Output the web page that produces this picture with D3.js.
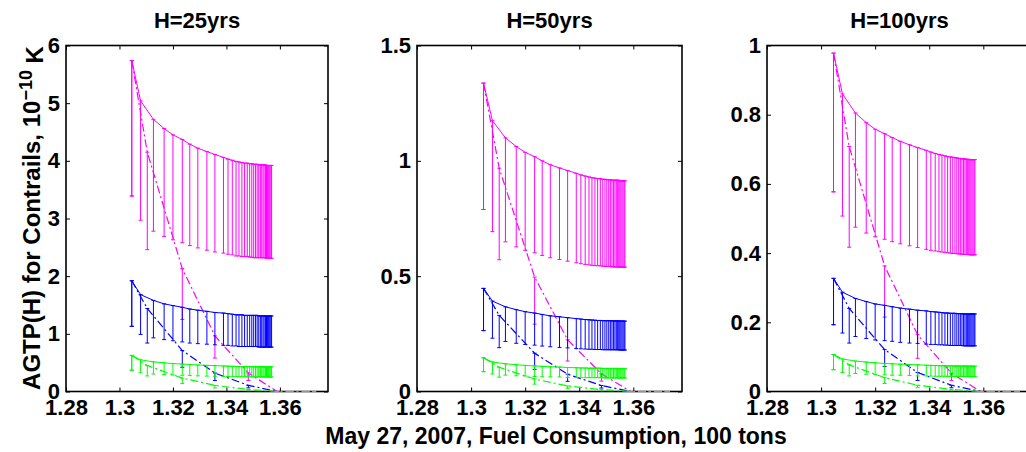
<!DOCTYPE html>
<meta charset="utf-8">
<style>
body { margin: 0; background: #fff; }
svg text { font-family: "Liberation Sans", Arial, sans-serif; font-weight: bold; fill: #000; }
.axis text { font-size: 22px; }
.axis line { stroke: #000; }
.axis path { display: none; }
</style>
<svg id="chart" width="1026" height="452"></svg>
<script src="https://d3js.org/d3.v7.min.js"></script>
<script>

// x positions (fuel consumption, 100 tons)
var xsSolid = [1.3046,1.3079,1.3127,1.3167,1.3200,1.3235,1.3263,1.3293,1.3327,1.3357,1.3389,1.3406,1.3422,1.3436,1.3447,1.3458,1.3468,1.3478,1.3487,1.3495,1.3502,1.3509,1.3515,1.3521,1.3527,1.3532,1.3537,1.3541,1.3546,1.3550,1.3554,1.3558,1.3562,1.3566,1.3569];
var xsDash = [1.3046,1.3104,1.3235,1.3357,1.3482,1.3590,1.3728];

var xTicks = [1.28, 1.30, 1.32, 1.34, 1.36];
var xTickLabels = ["1.28", "1.3", "1.32", "1.34", "1.36"];

// H = 25 yrs
var h25MagTop = [5.74,5.04,4.72,4.56,4.45,4.37,4.29,4.22,4.16,4.11,4.06,4.03,4.01,3.99,3.98,3.97,3.96,3.96,3.95,3.95,3.94,3.94,3.94,3.93,3.93,3.93,3.93,3.93,3.93,3.92,3.92,3.92,3.92,3.92,3.92];
var h25MagLow = [3.39,2.97,2.78,2.69,2.63,2.58,2.53,2.49,2.45,2.42,2.40,2.38,2.37,2.35,2.35,2.34,2.34,2.34,2.33,2.33,2.32,2.32,2.32,2.32,2.32,2.32,2.32,2.32,2.32,2.31,2.31,2.31,2.31,2.31,2.31];
var h25BluTop = [1.92,1.68,1.58,1.52,1.49,1.46,1.43,1.41,1.39,1.37,1.36,1.35,1.34,1.33,1.33,1.33,1.32,1.32,1.32,1.32,1.32,1.32,1.32,1.31,1.31,1.31,1.31,1.31,1.31,1.31,1.31,1.31,1.31,1.31,1.31];
var h25BluLow = [1.13,0.99,0.93,0.90,0.88,0.86,0.84,0.83,0.82,0.81,0.80,0.80,0.79,0.79,0.78,0.78,0.78,0.78,0.78,0.78,0.78,0.78,0.78,0.77,0.77,0.77,0.77,0.77,0.77,0.77,0.77,0.77,0.77,0.77,0.77];
var h25GrnTop = [0.626,0.549,0.514,0.497,0.485,0.476,0.468,0.460,0.453,0.448,0.443,0.439,0.437,0.435,0.434,0.433,0.432,0.432,0.431,0.431,0.429,0.429,0.429,0.428,0.428,0.428,0.428,0.428,0.428,0.427,0.427,0.427,0.427,0.427,0.427];
var h25GrnLow = [0.369,0.324,0.303,0.293,0.286,0.281,0.276,0.271,0.267,0.264,0.261,0.259,0.258,0.257,0.256,0.255,0.255,0.255,0.254,0.254,0.253,0.253,0.253,0.253,0.253,0.253,0.253,0.253,0.253,0.252,0.252,0.252,0.252,0.252,0.252];
var h25MagDashTop = [5.74,4.15,2.13,0.965,0.32,0,0];
var h25MagDashLow = [3.39,2.46,1.25,0.58,0.19,0,0];
var h25BluDashTop = [1.92,1.44,0.71,0.32,0.107,0,0];
var h25BluDashLow = [1.13,0.84,0.42,0.19,0.063,0,0];
var h25GrnDashTop = [0.626,0.45,0.232,0.105,0.035,0,0];
var h25GrnDashLow = [0.369,0.27,0.137,0.062,0.021,0,0];

// H = 50 yrs
var h50MagTop = [1.337,1.174,1.100,1.062,1.037,1.018,1.000,0.983,0.969,0.958,0.946,0.939,0.934,0.930,0.927,0.925,0.923,0.923,0.920,0.920,0.918,0.918,0.918,0.916,0.916,0.916,0.916,0.916,0.916,0.913,0.913,0.913,0.913,0.913,0.913];
var h50MagLow = [0.789,0.693,0.649,0.627,0.612,0.601,0.590,0.580,0.572,0.565,0.558,0.554,0.551,0.549,0.547,0.546,0.545,0.545,0.543,0.543,0.542,0.542,0.542,0.540,0.540,0.540,0.540,0.540,0.540,0.539,0.539,0.539,0.539,0.539,0.539];
var h50BluTop = [0.447,0.392,0.367,0.355,0.346,0.340,0.334,0.328,0.324,0.320,0.316,0.314,0.312,0.311,0.310,0.309,0.308,0.308,0.307,0.307,0.307,0.307,0.307,0.306,0.306,0.306,0.306,0.306,0.306,0.305,0.305,0.305,0.305,0.305,0.305];
var h50BluLow = [0.264,0.231,0.217,0.209,0.204,0.201,0.197,0.194,0.191,0.189,0.186,0.185,0.184,0.183,0.183,0.182,0.182,0.182,0.181,0.181,0.181,0.181,0.181,0.181,0.181,0.181,0.181,0.181,0.181,0.180,0.180,0.180,0.180,0.180,0.180];
var h50GrnTop = [0.146,0.128,0.120,0.116,0.113,0.111,0.109,0.107,0.106,0.104,0.103,0.102,0.102,0.101,0.101,0.101,0.101,0.101,0.100,0.100,0.100,0.100,0.100,0.100,0.100,0.100,0.100,0.100,0.100,0.0995,0.0995,0.0995,0.0995,0.0995,0.0995];
var h50GrnLow = [0.086,0.076,0.071,0.068,0.067,0.065,0.064,0.063,0.063,0.061,0.061,0.060,0.060,0.060,0.060,0.060,0.060,0.060,0.059,0.059,0.059,0.059,0.059,0.059,0.059,0.059,0.059,0.059,0.059,0.059,0.059,0.059,0.059,0.059,0.059];
var h50MagDashTop = [1.337,0.968,0.496,0.224,0.077,0,0];
var h50MagDashLow = [0.789,0.571,0.292,0.132,0.045,0,0];
var h50BluDashTop = [0.447,0.330,0.166,0.075,0.026,0,0];
var h50BluDashLow = [0.264,0.190,0.096,0.044,0.015,0,0];
var h50GrnDashTop = [0.146,0.105,0.054,0.024,0.008,0,0];
var h50GrnDashLow = [0.086,0.062,0.032,0.014,0.005,0,0];

// H = 100 yrs
var h100MagTop = [0.978,0.860,0.805,0.777,0.758,0.745,0.734,0.723,0.713,0.705,0.697,0.692,0.688,0.685,0.683,0.681,0.679,0.678,0.677,0.676,0.675,0.674,0.673,0.673,0.672,0.672,0.671,0.671,0.671,0.670,0.670,0.670,0.670,0.670,0.670];
var h100MagLow = [0.577,0.507,0.475,0.458,0.447,0.440,0.433,0.427,0.421,0.416,0.411,0.408,0.406,0.404,0.403,0.402,0.401,0.400,0.399,0.399,0.398,0.398,0.397,0.397,0.396,0.396,0.396,0.396,0.396,0.395,0.395,0.395,0.395,0.395,0.395];
var h100BluTop = [0.327,0.287,0.269,0.260,0.253,0.249,0.245,0.241,0.238,0.235,0.233,0.231,0.230,0.229,0.228,0.227,0.227,0.226,0.226,0.226,0.225,0.225,0.225,0.225,0.224,0.224,0.224,0.224,0.224,0.224,0.224,0.224,0.224,0.224,0.224];
var h100BluLow = [0.193,0.169,0.159,0.153,0.149,0.147,0.145,0.142,0.140,0.139,0.137,0.136,0.136,0.135,0.135,0.134,0.134,0.133,0.133,0.133,0.133,0.133,0.133,0.133,0.132,0.132,0.132,0.132,0.132,0.132,0.132,0.132,0.132,0.132,0.132];
var h100GrnTop = [0.107,0.094,0.088,0.085,0.083,0.081,0.080,0.079,0.078,0.077,0.076,0.0755,0.075,0.0747,0.0745,0.0742,0.074,0.074,0.0738,0.0737,0.0736,0.0735,0.0734,0.0734,0.0733,0.0733,0.0732,0.0732,0.0732,0.073,0.073,0.073,0.073,0.073,0.073];
var h100GrnLow = [0.063,0.055,0.052,0.050,0.049,0.048,0.047,0.047,0.046,0.045,0.045,0.0445,0.044,0.044,0.044,0.044,0.0437,0.0437,0.0435,0.0435,0.0434,0.0434,0.0433,0.0433,0.0432,0.0432,0.0432,0.0432,0.0432,0.043,0.043,0.043,0.043,0.043,0.043];
var h100MagDashTop = [0.978,0.708,0.363,0.164,0.053,0,0];
var h100MagDashLow = [0.577,0.417,0.215,0.096,0.032,0,0];
var h100BluDashTop = [0.327,0.240,0.121,0.055,0.018,0,0];
var h100BluDashLow = [0.193,0.140,0.072,0.032,0.011,0,0];
var h100GrnDashTop = [0.107,0.077,0.040,0.018,0.006,0,0];
var h100GrnDashLow = [0.063,0.045,0.023,0.011,0.0035,0,0];

var magenta = "#ff00ff", blue = "#0000ff", green = "#00ff00";

var panels = [
  {title: "H=25yrs", left: 66, right: 328, yMax: 6, yTicks: [0,1,2,3,4,5,6],
   series: [
     {color: magenta, top: h25MagTop, low: h25MagLow, dTop: h25MagDashTop, dLow: h25MagDashLow},
     {color: blue, top: h25BluTop, low: h25BluLow, dTop: h25BluDashTop, dLow: h25BluDashLow},
     {color: green, top: h25GrnTop, low: h25GrnLow, dTop: h25GrnDashTop, dLow: h25GrnDashLow}]},
  {title: "H=50yrs", left: 417, right: 682, yMax: 1.5, yTicks: [0,0.5,1,1.5],
   series: [
     {color: magenta, top: h50MagTop, low: h50MagLow, dTop: h50MagDashTop, dLow: h50MagDashLow},
     {color: blue, top: h50BluTop, low: h50BluLow, dTop: h50BluDashTop, dLow: h50BluDashLow},
     {color: green, top: h50GrnTop, low: h50GrnLow, dTop: h50GrnDashTop, dLow: h50GrnDashLow}]},
  {title: "H=100yrs", left: 767, right: 1032, yMax: 1, yTicks: [0,0.2,0.4,0.6,0.8,1],
   series: [
     {color: magenta, top: h100MagTop, low: h100MagLow, dTop: h100MagDashTop, dLow: h100MagDashLow},
     {color: blue, top: h100BluTop, low: h100BluLow, dTop: h100BluDashTop, dLow: h100BluDashLow},
     {color: green, top: h100GrnTop, low: h100GrnLow, dTop: h100GrnDashTop, dLow: h100GrnDashLow}]}
];

var plotTop = 45.5, plotBottom = 391.5;
var svg = d3.select("#chart");

panels.forEach(function (p, pi) {
  var x = d3.scaleLinear().domain([1.28, 1.378]).range([p.left, p.right]);
  var y = d3.scaleLinear().domain([0, p.yMax]).range([plotBottom, plotTop]);

  // axes box and inward ticks on all four sides, drawn under the data
  svg.append("rect").attr("x", p.left).attr("y", plotTop)
    .attr("width", p.right - p.left).attr("height", plotBottom - plotTop)
    .attr("fill", "none").attr("stroke", "#000").attr("stroke-width", 1.6);
  svg.append("g").attr("class", "axis").attr("transform", "translate(" + p.left + ",0)")
    .call(d3.axisLeft(y).tickValues(p.yTicks).tickSize(-4).tickPadding(6).tickFormat(d3.format("~g")));
  svg.append("g").attr("class", "axis").attr("transform", "translate(" + p.right + ",0)")
    .call(d3.axisRight(y).tickValues(p.yTicks).tickSize(-4).tickFormat(""));
  svg.append("g").attr("class", "axis").attr("transform", "translate(0," + plotBottom + ")")
    .call(d3.axisBottom(x).tickValues(xTicks).tickSize(-4).tickPadding(8)
      .tickFormat(function (d, i) { return xTickLabels[i]; }));
  svg.append("g").attr("class", "axis").attr("transform", "translate(0," + plotTop + ")")
    .call(d3.axisTop(x).tickValues(xTicks).tickSize(-4).tickFormat(""));

  svg.append("clipPath").attr("id", "clip" + pi)
    .append("rect").attr("x", p.left).attr("y", plotTop - 2)
    .attr("width", p.right - p.left).attr("height", plotBottom - plotTop + 2.5);

  var g = svg.append("g").attr("clip-path", "url(#clip" + pi + ")");

  var line = d3.line().x(function (d) { return x(d[0]); }).y(function (d) { return y(d[1]); });

  function errorBars(xs, tops, lows, color) {
    var pts = xs.map(function (v, i) { return [v, tops[i], lows[i]]; });
    var eb = g.append("g").attr("stroke", color).attr("stroke-width", 1).attr("fill", "none");
    eb.selectAll("line.v").data(pts).enter().append("line")
      .attr("x1", function (d) { return x(d[0]); }).attr("x2", function (d) { return x(d[0]); })
      .attr("y1", function (d) { return y(d[1]); }).attr("y2", function (d) { return y(d[2]); });
    [1, 2].forEach(function (k) {
      eb.selectAll("line.c" + k).data(pts).enter().append("line")
        .attr("x1", function (d) { return x(d[0]) - 2; }).attr("x2", function (d) { return x(d[0]) + 2; })
        .attr("y1", function (d) { return y(d[k]); }).attr("y2", function (d) { return y(d[k]); });
    });
  }

  p.series.forEach(function (s) {
    errorBars(xsSolid, s.top, s.low, s.color);
    g.append("path").datum(xsSolid.map(function (v, i) { return [v, s.top[i]]; }))
      .attr("d", line).attr("fill", "none").attr("stroke", s.color).attr("stroke-width", 1);
    errorBars(xsDash, s.dTop, s.dLow, s.color);
    g.append("path").datum(xsDash.map(function (v, i) { return [v, s.dTop[i]]; }))
      .attr("d", line).attr("fill", "none").attr("stroke", s.color).attr("stroke-width", 1.2)
      .attr("stroke-dasharray", "8,3,2,3");
  });

  svg.append("text").attr("x", (p.left + p.right) / 2).attr("y", 28)
    .attr("text-anchor", "middle").style("font-size", "22px").text(p.title);
});

var yl = svg.append("text").attr("transform", "translate(40,218) rotate(-90)")
  .attr("text-anchor", "middle").style("font-size", "24px");
yl.append("tspan").text("AGTP(H) for Contrails, 10");
yl.append("tspan").attr("dy", "-0.45em").style("font-size", "18px").text("\u221210");
yl.append("tspan").attr("dy", "0.45em").text(" K");

svg.append("text").attr("x", 556).attr("y", 444).attr("text-anchor", "middle")
  .style("font-size", "23px").text("May 27, 2007, Fuel Consumption, 100 tons");

</script>
